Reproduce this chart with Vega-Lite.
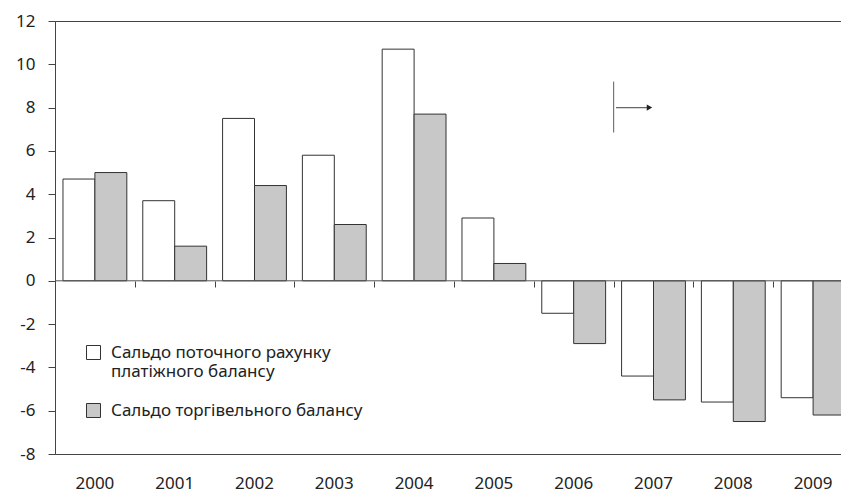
{
  "$schema": "https://vega.github.io/schema/vega-lite/v6.json",
  "width": 798,
  "height": 433,
  "autosize": "none",
  "padding": {"left": 55, "top": 21, "right": -12, "bottom": 38},
  "config": {
    "font": "Noto Sans",
    "view": {"stroke": "#444", "strokeWidth": 1},
    "axis": {"labelFont": "Noto Sans", "labelFontSize": 17, "labelColor": "#222", "grid": false},
    "axisY": {"title": null, "values": [-8, -6, -4, -2, 0, 2, 4, 6, 8, 10, 12], "labelExpr": "'' + datum.value", "tickSize": 7, "tickColor": "#444", "domain": true, "domainColor": "#444", "labelPadding": 13}
  },
  "datasets": {
    "bars": [
      {"year": "2000", "series": "Сальдо поточного рахунку|платіжного балансу", "value": 4.7},
      {"year": "2000", "series": "Сальдо торгівельного балансу", "value": 5.0},
      {"year": "2001", "series": "Сальдо поточного рахунку|платіжного балансу", "value": 3.7},
      {"year": "2001", "series": "Сальдо торгівельного балансу", "value": 1.6},
      {"year": "2002", "series": "Сальдо поточного рахунку|платіжного балансу", "value": 7.5},
      {"year": "2002", "series": "Сальдо торгівельного балансу", "value": 4.4},
      {"year": "2003", "series": "Сальдо поточного рахунку|платіжного балансу", "value": 5.8},
      {"year": "2003", "series": "Сальдо торгівельного балансу", "value": 2.6},
      {"year": "2004", "series": "Сальдо поточного рахунку|платіжного балансу", "value": 10.7},
      {"year": "2004", "series": "Сальдо торгівельного балансу", "value": 7.7},
      {"year": "2005", "series": "Сальдо поточного рахунку|платіжного балансу", "value": 2.9},
      {"year": "2005", "series": "Сальдо торгівельного балансу", "value": 0.8},
      {"year": "2006", "series": "Сальдо поточного рахунку|платіжного балансу", "value": -1.5},
      {"year": "2006", "series": "Сальдо торгівельного балансу", "value": -2.9},
      {"year": "2007", "series": "Сальдо поточного рахунку|платіжного балансу", "value": -4.4},
      {"year": "2007", "series": "Сальдо торгівельного балансу", "value": -5.5},
      {"year": "2008", "series": "Сальдо поточного рахунку|платіжного балансу", "value": -5.6},
      {"year": "2008", "series": "Сальдо торгівельного балансу", "value": -6.5},
      {"year": "2009", "series": "Сальдо поточного рахунку|платіжного балансу", "value": -5.4},
      {"year": "2009", "series": "Сальдо торгівельного балансу", "value": -6.2}
    ],
    "marker": [{"x": 7, "y": 9.2, "y2": 6.85}],
    "arrow": [{"x": 7.03, "x2": 7.43, "y": 8}],
    "head": [{"x": 7.45, "y": 8}]
  },
  "layer": [
    {
      "data": {"name": "bars"},
      "mark": {"type": "bar", "stroke": "#333", "strokeWidth": 1},
      "encoding": {
        "x": {
          "field": "year", "type": "nominal",
          "scale": {"paddingInner": 0.2, "paddingOuter": 0.1},
          "axis": {"title": null, "orient": "bottom", "domain": false, "ticks": false, "labelPadding": 21, "labelAngle": 0}
        },
        "xOffset": {
          "field": "series", "type": "nominal",
          "scale": {"domain": ["Сальдо поточного рахунку|платіжного балансу", "Сальдо торгівельного балансу"], "paddingInner": 0, "paddingOuter": 0}
        },
        "y": {
          "field": "value", "type": "quantitative",
          "scale": {"domain": [-8, 12], "nice": false, "zero": false}
        },
        "fill": {
          "field": "series", "type": "nominal",
          "scale": {"domain": ["Сальдо поточного рахунку|платіжного балансу", "Сальдо торгівельного балансу"], "range": ["#ffffff", "#c8c8c8"]},
          "legend": {
            "title": null, "orient": "none", "legendX": 30, "legendY": 323,
            "symbolType": "square", "symbolSize": 196, "symbolStrokeColor": "#333", "symbolStrokeWidth": 1,
            "labelFont": "Noto Sans", "labelFontSize": 17, "labelColor": "#222", "labelOffset": 9,
            "labelExpr": "split(datum.label, '|')", "rowPadding": 21, "labelLimit": 400
          }
        }
      }
    },
    {
      "data": {"name": "bars"},
      "mark": {"type": "text", "text": ""},
      "encoding": {
        "x": {
          "field": "year", "type": "nominal",
          "scale": {"paddingInner": 0, "paddingOuter": 0},
          "axis": {"title": null, "orient": "top", "offset": -260, "tickBand": "extent", "labels": false, "domain": false, "tickSize": -6, "tickColor": "#444"}
        }
      }
    },
    {
      "data": {"values": [{"v": 0}]},
      "mark": {"type": "rule", "stroke": "#555", "strokeWidth": 1},
      "encoding": {"y": {"field": "v", "type": "quantitative"}}
    },
    {
      "data": {"name": "marker"},
      "mark": {"type": "rule", "stroke": "#777", "strokeWidth": 1.2},
      "encoding": {
        "x": {"field": "x", "type": "quantitative", "scale": {"domain": [0, 10], "nice": false, "zero": false}, "axis": null},
        "y": {"field": "y", "type": "quantitative"},
        "y2": {"field": "y2"}
      }
    },
    {
      "data": {"name": "arrow"},
      "mark": {"type": "rule", "stroke": "#666", "strokeWidth": 1.2},
      "encoding": {
        "x": {"field": "x", "type": "quantitative", "scale": {"domain": [0, 10], "nice": false, "zero": false}, "axis": null},
        "x2": {"field": "x2"},
        "y": {"field": "y", "type": "quantitative"}
      }
    },
    {
      "data": {"name": "head"},
      "mark": {"type": "point", "shape": "triangle-right", "filled": true, "fill": "#222", "size": 40, "opacity": 1},
      "encoding": {
        "x": {"field": "x", "type": "quantitative", "scale": {"domain": [0, 10], "nice": false, "zero": false}, "axis": null},
        "y": {"field": "y", "type": "quantitative"}
      }
    }
  ],
  "resolve": {"scale": {"x": "independent"}}
}
